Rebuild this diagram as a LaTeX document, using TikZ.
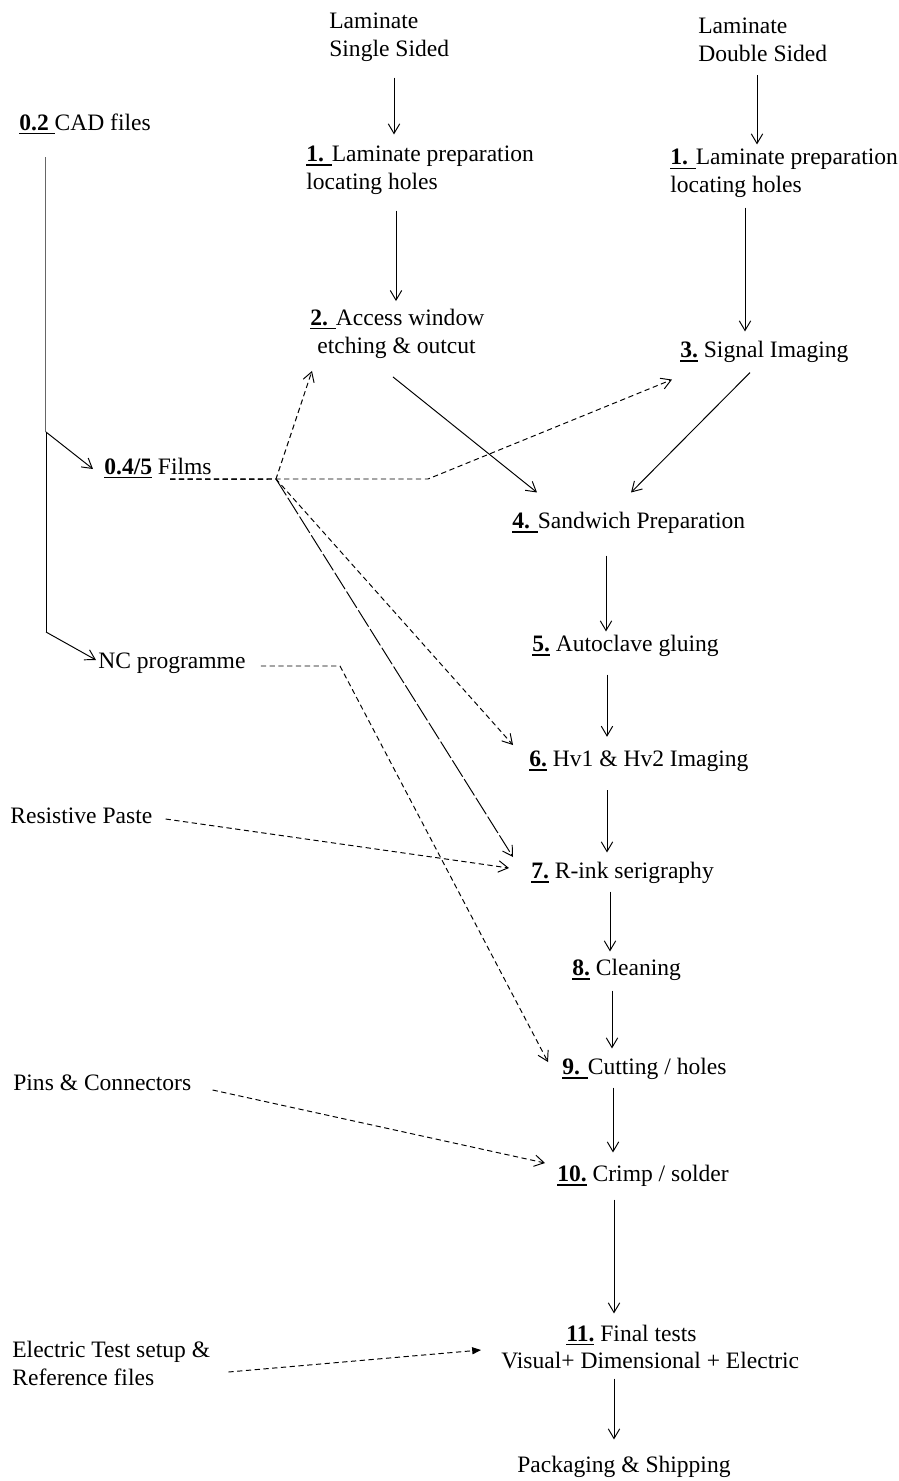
\documentclass[tikz,border=0pt]{standalone}
\usepackage{fontspec}
\setmainfont{Liberation Serif}
\usetikzlibrary{arrows.meta,calc}
\newcommand{\stepnum}[1]{\setbox0=\hbox{\bfseries #1}\rlap{\rule[-2.4pt]{\wd0}{0.9pt}}\box0\relax}
\tikzstyle{stage} = [
    anchor=west,
    inner sep=0pt,
    align=left,
    font=\fontsize{13.4}{15.8}\selectfont
]
\tikzstyle{flow} = [
    line width=0.55pt,
    -{Straight Barb[length=5.5pt,width=6.5pt]}
]
\tikzstyle{feed} = [flow, dash pattern=on 3pt off 2pt]
\tikzstyle{longfeed} = [flow, dash pattern=on 11pt off 1.6pt]
\tikzstyle{cadline} = [draw=black!60, double=white, line width=0.5pt, double distance=0.5pt]
\begin{document}
\begin{tikzpicture}[x=0.02cm, y=-0.02cm]
\useasboundingbox (0,0) rectangle (899,1481);
% inputs and process steps
\node[stage] (ls) at (329,37.5) {Laminate\\Single Sided};
\node[stage] (ld) at (698,40) {Laminate\\Double Sided};
\node[stage] (cad) at (19,124) {\stepnum{0.2 }CAD files};
\node[stage] (lp1) at (306,170) {\stepnum{1. }Laminate preparation\\locating holes};
\node[stage] (lp2) at (670,173.5) {\stepnum{1. }Laminate preparation\\locating holes};
\node[stage] (acc) at (310,333.5) {\stepnum{2. }Access window\\\hspace*{4pt}etching \& outcut};
\node[stage] (sig) at (680,352) {\stepnum{3.} Signal Imaging};
\node[stage] (films) at (104,468) {\stepnum{0.4/5} Films};
\node[stage] (sand) at (512,523) {\stepnum{4. }Sandwich Preparation};
\node[stage] (auto) at (532,646) {\stepnum{5.} Autoclave gluing};
\node[stage] (nc) at (98,663) {NC programme};
\node[stage] (hv) at (529,761) {\stepnum{6.} Hv1 \& Hv2 Imaging};
\node[stage] (res) at (10,816) {Resistive Paste};
\node[stage] (rink) at (531,873) {\stepnum{7.} R-ink serigraphy};
\node[stage] (clean) at (572,970) {\stepnum{8.} Cleaning};
\node[stage] (cut) at (562,1069) {\stepnum{9. }Cutting / holes};
\node[stage] (pins) at (13,1083) {Pins \& Connectors};
\node[stage] (crimp) at (557,1176) {\stepnum{10.} Crimp / solder};
\node[stage] (final) at (501,1347) {\hspace*{37pt}\stepnum{11.} Final tests\\Visual+ Dimensional + Electric};
\node[stage] (elec) at (12,1363.5) {Electric Test setup \&\\Reference files};
\node[stage] (pack) at (517,1467) {Packaging \& Shipping};
% branch points
\coordinate (jf) at (46,432);
\coordinate (jn) at (46,632);
\coordinate (jd) at (276,479);
\coordinate (kink) at (428,479);
\coordinate (nck) at (340,666);
% main flow
\draw[flow] ($(ls.south west)+(65,15.5)$) -- ($(lp1.north west)+(88,-11)$);
\draw[flow] ($(ld.south west)+(59,13)$) -- ($(lp2.north west)+(87,-4.5)$);
\draw[flow] ($(lp1.south west)+(90,16)$) -- ($(acc.north west)+(86,-7.5)$);
\draw[flow] ($(lp2.south west)+(75,9.5)$) -- ($(sig.north west)+(65,-9.5)$);
\draw[flow] ($(acc.south west)+(83,18.5)$) -- ($(sand.north west)+(25,-19.5)$);
\draw[flow] ($(sig.south west)+(70,9.5)$) -- ($(sand.north west)+(119,-19.5)$);
\draw[flow] ($(sand.south west)+(94,21.5)$) -- ($(auto.north west)+(74,-3.5)$);
\draw[flow] ($(auto.south west)+(75,17.5)$) -- ($(hv.north west)+(78,-13.5)$);
\draw[flow] ($(hv.south west)+(78,18.5)$) -- ($(rink.north west)+(76,-9.5)$);
\draw[flow] ($(rink.south west)+(79,7.5)$) -- ($(clean.north west)+(38,-7.5)$);
\draw[flow] ($(clean.south west)+(40,9.5)$) -- ($(cut.north west)+(50,-9.5)$);
\draw[flow] ($(cut.south west)+(51,7.5)$) -- ($(crimp.north west)+(56,-12.5)$);
\draw[flow] ($(crimp.south west)+(57,12.5)$) -- ($(final.north west)+(113,-11)$);
\draw[flow] ($(final.south west)+(113,9)$) -- ($(pack.north west)+(97,-16.5)$);
% CAD files
\draw[cadline] ($(cad.south west)+(27,22.5)$) -- (jf);
\draw[line width=0.55pt] (jf) -- (jn);
\draw[flow] (jf) -- ($(films.west)+(-11,1)$);
\draw[flow] (jn) -- ($(nc.west)+(-2,-3)$);
% films and other inputs
\draw[feed] ($(films.south west)+(66,0.5)$) -- (jd) -- ($(acc.south west)+(2,12.5)$);
\draw[feed] ($(films.south west)+(66,0.5)$) -- (jd) -- (kink) -- ($(sig.south west)+(-8,16.5)$);
\draw[feed] ($(films.south west)+(66,0.5)$) -- (jd) -- ($(hv.west)+(-16,-16)$);
\draw[longfeed] (jd) -- ($(rink.west)+(-18,-16)$);
\draw[feed] ($(nc.east)+(15,3)$) -- (nck) -- ($(cut.west)+(-14,-7)$);
\draw[feed] ($(res.east)+(13,3)$) -- ($(rink.west)+(-22,-5)$);
\draw[feed] ($(pins.east)+(21,7)$) -- ($(crimp.west)+(-12,-13)$);
\draw[feed, -{Triangle[length=5pt,width=4pt]}] ($(elec.east)+(18,8.5)$) -- ($(final.west)+(-20,3)$);
\end{tikzpicture}
\end{document}
